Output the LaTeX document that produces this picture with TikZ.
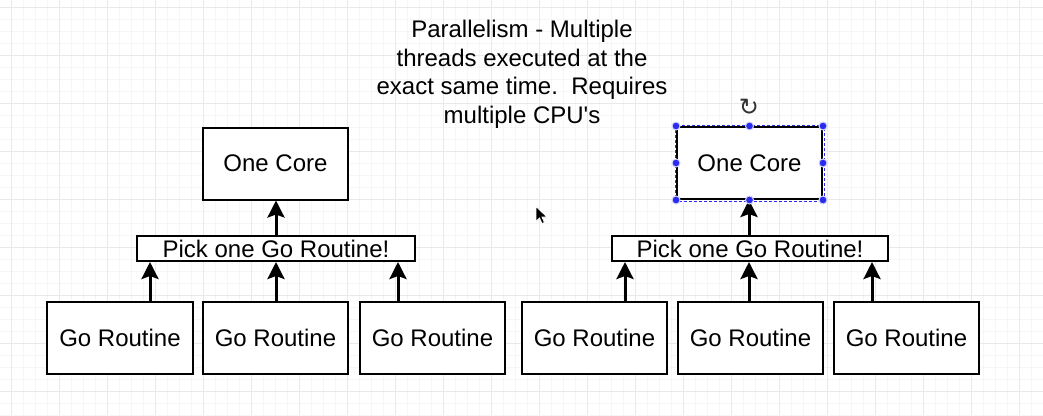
\documentclass[tikz,border=0pt]{standalone}
\usepackage{fontspec}
\setmainfont{Liberation Sans}[Ligatures=TeXOff]
\newfontfamily\symfont{DejaVu Sans}
\usetikzlibrary{arrows.meta}
\definecolor{majorg}{HTML}{E9E9E9}
\definecolor{minorg}{HTML}{F6F6F6}
\definecolor{selblue}{HTML}{2B2BF0}
\begin{document}
\begin{tikzpicture}[x=1pt,y=-1pt,
  box/.style={draw=black, line width=2pt, fill=white, inner sep=0pt,
    font=\fontsize{24}{28.5}\selectfont},
  flow/.style={line width=3pt, -{Stealth[length=17pt,width=17pt,inset=3pt]}},
  handle/.style={circle, fill=selblue, draw=selblue!20, line width=1pt, inner sep=0pt, minimum size=8pt},
  minorgrid/.style={draw=minorg, line width=0.8pt},
  majorgrid/.style={draw=majorg, line width=1pt}
]
\useasboundingbox[fill=white] (0,0) rectangle (1043,415);
% grid
\foreach \k in {0,...,86} \draw[minorgrid] ({11.7+12*\k},0) -- ({11.7+12*\k},415);
\foreach \k in {0,...,34} \draw[minorgrid] (0,{7+12*\k}) -- (1043,{7+12*\k});
\foreach \k in {0,...,21} \draw[majorgrid] ({11.7+48*\k},0) -- ({11.7+48*\k},415);
\foreach \k in {0,...,8} \draw[majorgrid] (0,{7+48*\k}) -- (1043,{7+48*\k});

% title
\node[font=\fontsize{24}{28.5}\selectfont, align=center] (title) at (522,74.5)
  {Parallelism - Multiple\\threads executed at the\\exact same time.\ \ Requires\\multiple CPU's};

% left group
\node[box, minimum width=145pt, minimum height=72pt] (c1) at (275.5,163.5) {One Core};
\node[box, minimum width=278pt, minimum height=25pt] (p1) at (276,248.5) {Pick one Go Routine!};
\node[box, minimum width=146pt, minimum height=72pt] (g1) at (120,338) {Go Routine};
\node[box, minimum width=145pt, minimum height=72pt] (g2) at (275.5,338) {Go Routine};
\node[box, minimum width=145pt, minimum height=72pt] (g3) at (432.5,338) {Go Routine};

% right group
\node[box, minimum width=145pt, minimum height=72pt] (c2) at (749.5,163) {One Core};
\node[box, minimum width=276pt, minimum height=25pt] (p2) at (750,248.5) {Pick one Go Routine!};
\node[box, minimum width=145pt, minimum height=72pt] (g4) at (594.5,338) {Go Routine};
\node[box, minimum width=145pt, minimum height=72pt] (g5) at (750.5,338) {Go Routine};
\node[box, minimum width=145pt, minimum height=72pt] (g6) at (906.5,338) {Go Routine};

% arrow columns
\coordinate (a1) at (150,0);
\coordinate (a2) at (276,0);
\coordinate (a3) at (398,0);
\coordinate (a4) at (625,0);
\coordinate (a5) at (749,0);
\coordinate (a6) at (872,0);

\draw[flow] (g1.north -| a1) -- (p1.south -| a1);
\draw[flow] (g2.north -| a2) -- (p1.south -| a2);
\draw[flow] (g3.north -| a3) -- (p1.south -| a3);
\draw[flow] (p1.north -| a2) -- (c1.south -| a2);

\draw[flow] (g4.north -| a4) -- (p2.south -| a4);
\draw[flow] (g5.north -| a5) -- (p2.south -| a5);
\draw[flow] (g6.north -| a6) -- (p2.south -| a6);
\draw[flow] (p2.north -| a5) -- (c2.south -| a5);

% selection marks on the right core
\draw[selblue, line width=1pt, dash pattern=on 3pt off 2pt]
  ([shift={(-1pt,1pt)}]c2.north west) rectangle ([shift={(1pt,-1pt)}]c2.south east);
\foreach \an in {north west,north,north east,east,south east,south,south west,west}
  \node[handle] at (c2.\an) {};
\node[font=\symfont\fontsize{24}{24}\selectfont, text=black!80] (rot) at (749,107) {↻};

% mouse pointer
\filldraw[fill=black, draw=white, line width=0.8pt, shift={(536,206.5)}]
  (0,0) -- (0,15) -- (3.5,11.5) -- (6,17) -- (8.5,16) -- (6,10.5) -- (11,10.5) -- cycle;
\end{tikzpicture}
\end{document}
